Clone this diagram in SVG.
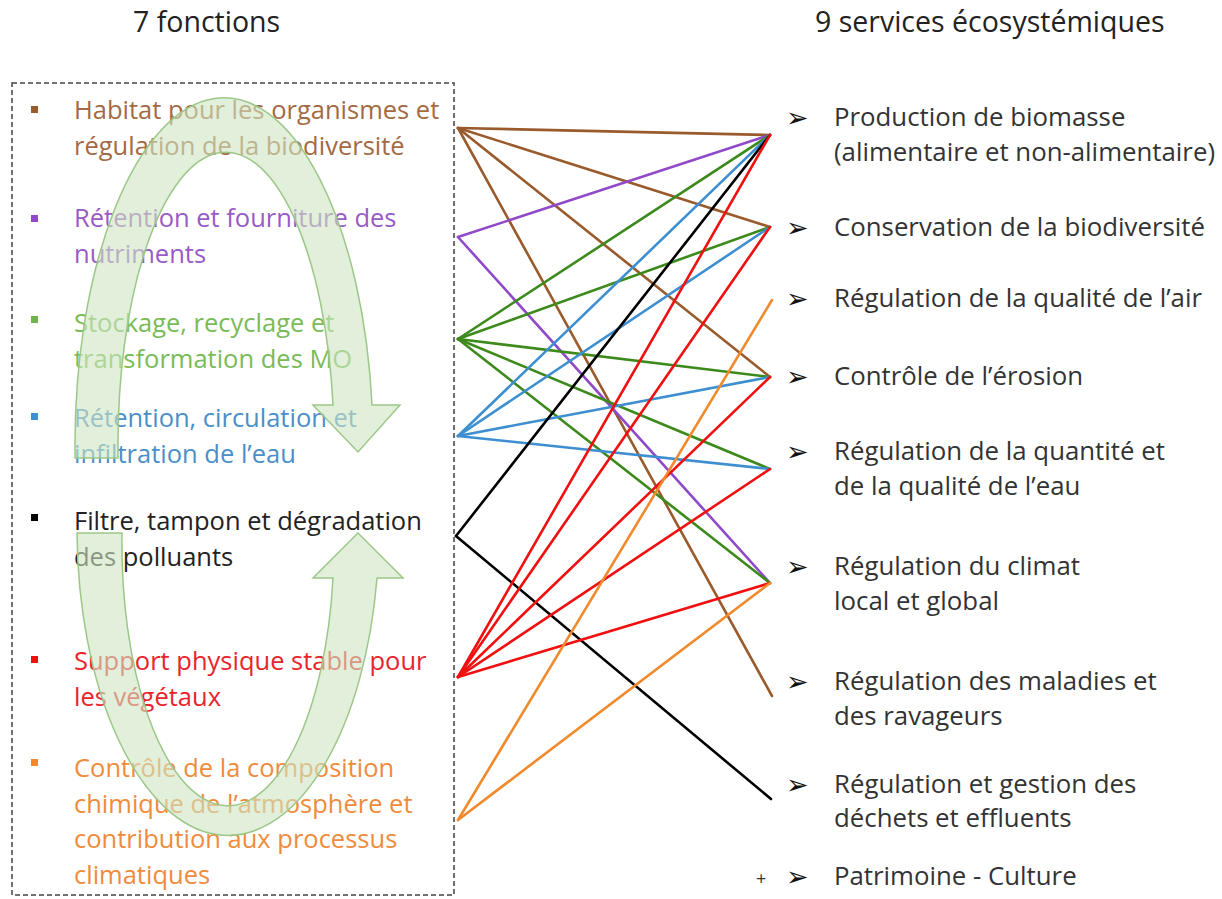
<svg xmlns="http://www.w3.org/2000/svg" width="1222" height="899" viewBox="0 0 1222 899">
<style>
  text { font-family: "Open Sans", "Liberation Sans", sans-serif; }
  .title { font-size: 28.5px; fill: #222; }
  .fn { font-size: 25.5px; }
  .sv { font-size: 25.8px; fill: #333; }
  .arr { font-family: "DejaVu Sans", sans-serif; font-size: 27px; fill: #111; }
  .c { fill: none; stroke-width: 2.6; stroke-linecap: round; }
  .brown { stroke: #995a2c; }
  .purple { stroke: #8f49c9; }
  .green { stroke: #3d8a1c; }
  .blue { stroke: #3d8fd1; }
  .black { stroke: #000; }
  .red { stroke: #f01010; }
  .orange { stroke: #f08a2c; }
  .cycle { fill: #cfe5c2; fill-opacity: 0.6; stroke: #9cc788; stroke-width: 1.5; }
</style>

<text class="title" x="133" y="32">7 fonctions</text>
<text class="title" x="815" y="32">9 services écosystémiques</text>

<rect id="box" x="12" y="83" width="442" height="812" fill="none" stroke="#444" stroke-width="1.5" stroke-dasharray="5 3"/>

<g id="f1">
  <rect x="31" y="106" width="7" height="7" fill="#995a2c"/>
  <text class="fn" fill="#a36a44" x="74" y="119">Habitat pour les organismes et<tspan x="74" dy="35.5">régulation de la biodiversité</tspan></text>
</g>
<g id="f2">
  <rect x="31" y="215" width="7" height="7" fill="#8f49c9"/>
  <text class="fn" fill="#9a5ac7" x="74" y="227">Rétention et fourniture des<tspan x="74" dy="35.5">nutriments</tspan></text>
</g>
<g id="f3">
  <rect x="31" y="316" width="7" height="7" fill="#6fb54b"/>
  <text class="fn" fill="#79bb57" x="74" y="332">Stockage, recyclage et<tspan x="74" dy="35.5">transformation des MO</tspan></text>
</g>
<g id="f4">
  <rect x="31" y="413" width="7" height="7" fill="#3d8fd1"/>
  <text class="fn" fill="#4a8fc9" x="74" y="427">Rétention, circulation et<tspan x="74" dy="35.5">infiltration de l’eau</tspan></text>
</g>
<g id="f5">
  <rect x="31" y="514" width="7" height="7" fill="#000"/>
  <text class="fn" fill="#222" x="74" y="530">Filtre, tampon et dégradation<tspan x="74" dy="35.5">des polluants</tspan></text>
</g>
<g id="f6">
  <rect x="31" y="656" width="7" height="7" fill="#f01010"/>
  <text class="fn" fill="#e8242c" x="74" y="670">Support physique stable pour<tspan x="74" dy="35.5">les végétaux</tspan></text>
</g>
<g id="f7">
  <rect x="31" y="759" width="7" height="7" fill="#f08a2c"/>
  <text class="fn" fill="#ef8b3c" x="74" y="777">Contrôle de la composition<tspan x="74" dy="35.5">chimique de l’atmosphère et</tspan><tspan x="74" dy="35.5">contribution aux processus</tspan><tspan x="74" dy="35.5">climatiques</tspan></text>
</g>

<g id="cycle">
  <path class="cycle" d="M 75 458 L 75 450 A 149 347 0 0 1 372 405 L 400 405 L 358 452 L 313 405 L 333 405 A 108 292 0 0 0 118 450 L 118 458 Z"/>
  <path class="cycle" d="M 77 533 A 151 307 0 0 0 377 578 L 403 578 L 358 533 L 313 578 L 333 578 A 106 262 0 0 1 122 533 Z"/>
</g>

<g id="connectors">
  <line class="c brown" x1="458" y1="128" x2="770" y2="135"/>
  <line class="c brown" x1="458" y1="128" x2="770" y2="227"/>
  <line class="c brown" x1="458" y1="128" x2="770" y2="377"/>
  <line class="c brown" x1="458" y1="128" x2="772" y2="696"/>
  <line class="c purple" x1="458" y1="237" x2="770" y2="135"/>
  <line class="c purple" x1="458" y1="237" x2="770" y2="583"/>
  <line class="c green" x1="458" y1="339" x2="770" y2="135"/>
  <line class="c green" x1="458" y1="339" x2="770" y2="227"/>
  <line class="c green" x1="458" y1="339" x2="770" y2="377"/>
  <line class="c green" x1="458" y1="339" x2="770" y2="469"/>
  <line class="c green" x1="458" y1="339" x2="770" y2="583"/>
  <line class="c blue" x1="458" y1="436" x2="770" y2="135"/>
  <line class="c blue" x1="458" y1="436" x2="770" y2="227"/>
  <line class="c blue" x1="458" y1="436" x2="770" y2="377"/>
  <line class="c blue" x1="458" y1="436" x2="770" y2="469"/>
  <line class="c black" x1="456" y1="536" x2="770" y2="135"/>
  <line class="c black" x1="456" y1="536" x2="771" y2="799"/>
  <line class="c red" x1="458" y1="677" x2="770" y2="135"/>
  <line class="c red" x1="458" y1="677" x2="770" y2="227"/>
  <line class="c red" x1="458" y1="677" x2="770" y2="377"/>
  <line class="c red" x1="458" y1="677" x2="770" y2="469"/>
  <line class="c red" x1="458" y1="677" x2="770" y2="583"/>
  <line class="c orange" x1="458" y1="820" x2="772" y2="300"/>
  <line class="c orange" x1="458" y1="820" x2="770" y2="583"/>
</g>

<g id="s1"><text class="arr" x="786" y="127">➢</text><text class="sv" x="834" y="126">Production de biomasse<tspan x="834" dy="35">(alimentaire et non-alimentaire)</tspan></text></g>
<g id="s2"><text class="arr" x="786" y="237">➢</text><text class="sv" x="834" y="236">Conservation de la biodiversité</text></g>
<g id="s3"><text class="arr" x="786" y="308">➢</text><text class="sv" x="834" y="307">Régulation de la qualité de l’air</text></g>
<g id="s4"><text class="arr" x="786" y="386">➢</text><text class="sv" x="834" y="385">Contrôle de l’érosion</text></g>
<g id="s5"><text class="arr" x="786" y="461">➢</text><text class="sv" x="834" y="460">Régulation de la quantité et<tspan x="834" dy="35">de la qualité de l’eau</tspan></text></g>
<g id="s6"><text class="arr" x="786" y="576">➢</text><text class="sv" x="834" y="575">Régulation du climat<tspan x="834" dy="35">local et global</tspan></text></g>
<g id="s7"><text class="arr" x="786" y="691">➢</text><text class="sv" x="834" y="690">Régulation des maladies et<tspan x="834" dy="35">des ravageurs</tspan></text></g>
<g id="s8"><text class="arr" x="786" y="794">➢</text><text class="sv" x="834" y="793">Régulation et gestion des<tspan x="834" dy="34">déchets et effluents</tspan></text></g>
<g id="s9"><text class="sv" x="756" y="885" style="font-size:18px">+</text><text class="arr" x="786" y="886">➢</text><text class="sv" x="834" y="885">Patrimoine - Culture</text></g>
</svg>
